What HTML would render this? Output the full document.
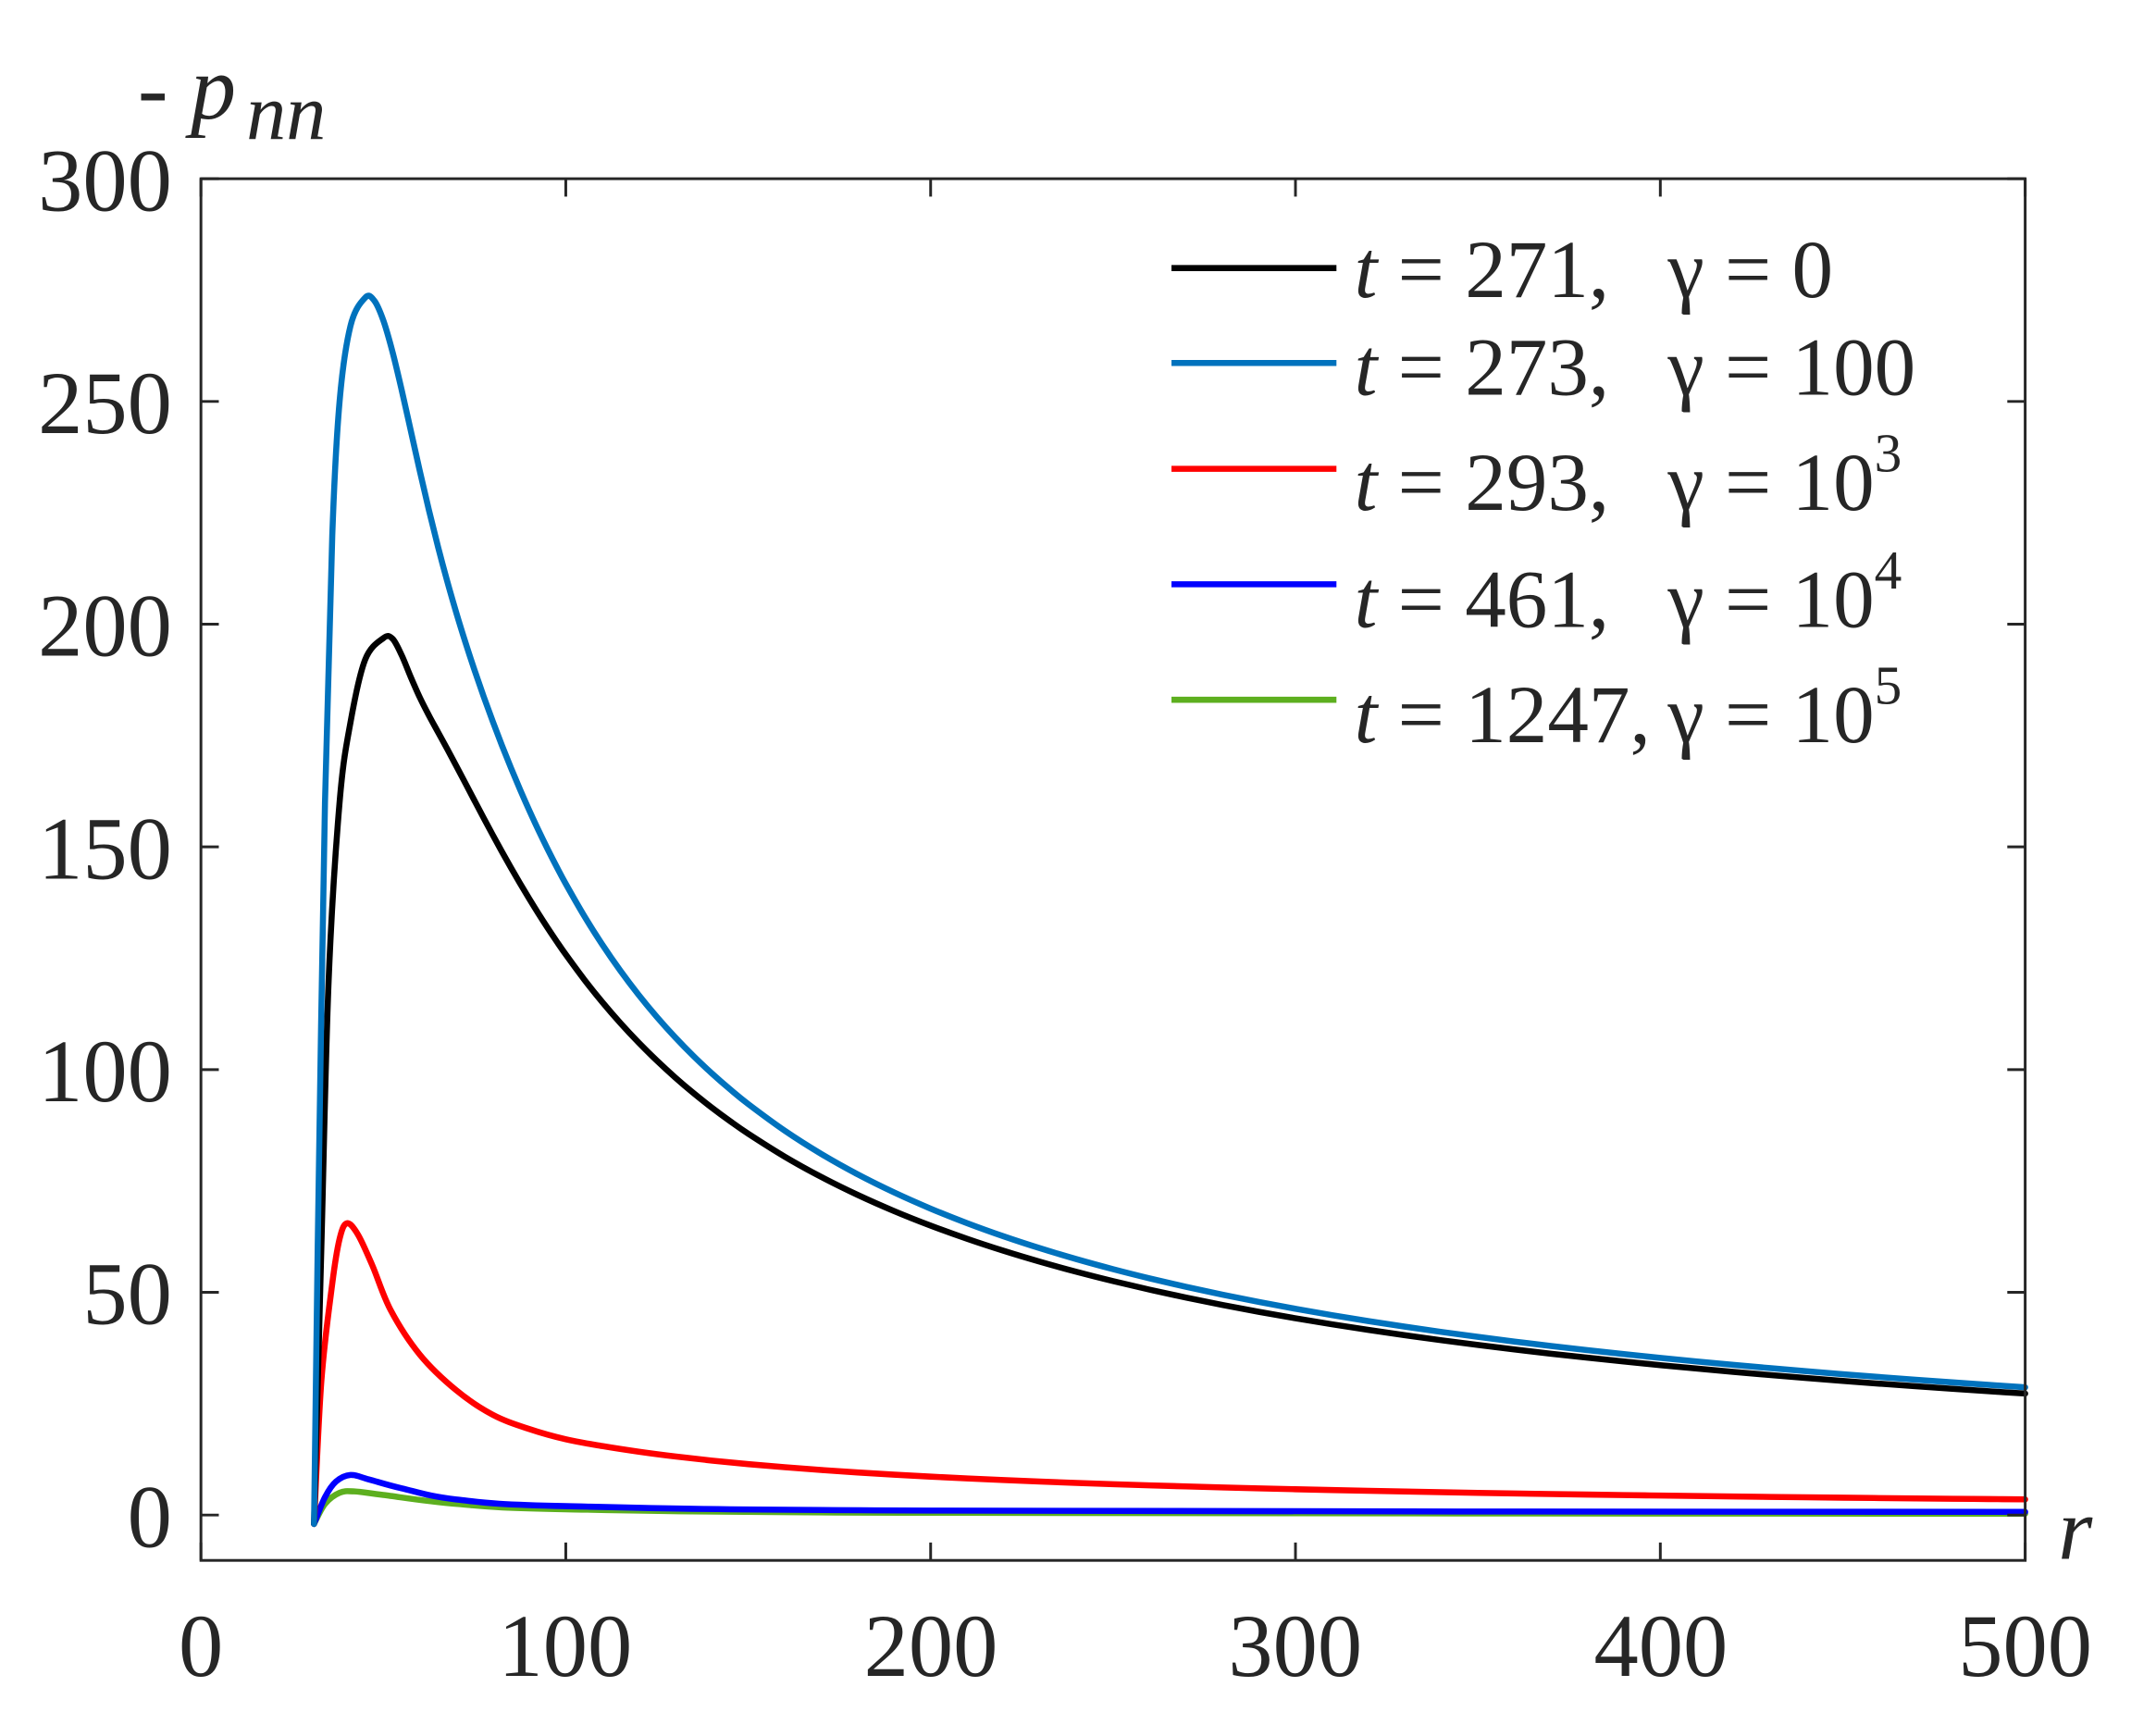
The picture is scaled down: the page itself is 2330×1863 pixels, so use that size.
<!DOCTYPE html>
<html><head><meta charset="utf-8"><style>
html,body{margin:0;padding:0;background:#fff}
svg{display:block}
text{font-family:"Liberation Serif","DejaVu Serif",serif;fill:#262626}
</style></head><body>
<svg id="s" width="2330" height="1863" viewBox="0 0 1568 1254" xmlns="http://www.w3.org/2000/svg">
<rect width="1568" height="1254" fill="#fff"/>
<g id="curves" fill="none" stroke-width="4.4" stroke-linejoin="round" stroke-linecap="round"></g>
<rect x="146" y="130" width="1327" height="1005" fill="none" stroke="#262626" stroke-width="2"/>
<g id="ticks" stroke="#262626" stroke-width="2"></g>
<g font-size="65">
<text x="125" y="153" text-anchor="end">300</text>
<text x="125" y="315" text-anchor="end">250</text>
<text x="125" y="477" text-anchor="end">200</text>
<text x="125" y="639" text-anchor="end">150</text>
<text x="125" y="801" text-anchor="end">100</text>
<text x="125" y="963" text-anchor="end">50</text>
<text x="125" y="1125" text-anchor="end">0</text>
<text x="146" y="1219" text-anchor="middle">0</text>
<text x="411" y="1219" text-anchor="middle">100</text>
<text x="677" y="1219" text-anchor="middle">200</text>
<text x="942" y="1219" text-anchor="middle">300</text>
<text x="1208" y="1219" text-anchor="middle">400</text>
<text x="1473" y="1219" text-anchor="middle">500</text>
</g>
<text x="100" y="86" font-size="66">- <tspan font-style="italic">p</tspan></text>
<text x="179" y="101" font-size="58" font-style="italic">nn</text>
<text x="1497" y="1134" font-size="64" font-style="italic">r</text>
<g stroke-width="4.4">
<line x1="852" y1="195" x2="972" y2="195" stroke="#000"/>
<line x1="852" y1="264" x2="972" y2="264" stroke="#0072BD"/>
<line x1="852" y1="341" x2="972" y2="341" stroke="#FF0000"/>
<line x1="852" y1="425" x2="972" y2="425" stroke="#0000FF"/>
<line x1="852" y1="509" x2="972" y2="509" stroke="#5DAF1F"/>
</g>
<g font-size="60">
<text x="985" y="216"><tspan font-style="italic">t</tspan> = 271,</text>
<text x="1213" y="216">γ = 0</text>
<text x="985" y="287"><tspan font-style="italic">t</tspan> = 273,</text>
<text x="1213" y="287">γ = 100</text>
<text x="985" y="371"><tspan font-style="italic">t</tspan> = 293,</text>
<text x="1213" y="371">γ = 10<tspan font-size="40" dy="-28">3</tspan></text>
<text x="985" y="456"><tspan font-style="italic">t</tspan> = 461,</text>
<text x="1213" y="456">γ = 10<tspan font-size="40" dy="-28">4</tspan></text>
<text x="985" y="540"><tspan font-style="italic">t</tspan> = 1247,</text>
<text x="1213" y="540">γ = 10<tspan font-size="40" dy="-28">5</tspan></text>
</g>
</svg>
<script>
var X=function(r){return 146+r*2.654}, Y=function(v){return 1102-v*3.24};
var ns="http://www.w3.org/2000/svg";
function tail(a,b,p,r0,f0){var out=[];for(var r=a;r<=b;r+=10)out.push([r,f0*Math.pow(r/r0,-p)]);return out;}
function ana(r0,f0,b,p,s,ca,cc,cw){var out=[];for(var r=r0;r<=500;r+=(r<100?2.5:(r<150?5:10))){var g=f0*Math.pow((r+b)/(100+b),-p)*(1-Math.exp(-(r-31)/s))+ca*Math.exp(-Math.pow((r-cc)/cw,2));out.push([r,g]);}return out;}
var data=[
["#5DAF1F",[[31,-2],[34,2.5],[38,5],[42,5.3],[50,4.5],[70,2.5],[100,1.3],[200,0.5],[500,0.3]]],
["#0000FF",[[31,-2],[34,4],[37,7.5],[41,9],[46,8],[55,6],[70,3.5],[100,2],[200,1],[500,0.7]]],
["#FF0000",[[31,-2],[33,30],[36,52],[38,62],[40,65.5],[43,63],[47,56],[52,46],[60,36],[70,28],[80,22.5],[90,19.3]].concat(tail(100,500,0.98,100,17))],
["#000000",[[31,-2],[33,60],[35,120],[38,160],[41,178],[45,192]].concat(ana(50,127,-5,0.932,14.7,12,50,7))],
["#0072BD",[[31,-2],[32,60],[34,160],[36,220],[38,250],[41,267]].concat(ana(45,144.5,-25,0.876,17.5,20,45,14))]
];
var g=document.getElementById("curves");
data.forEach(function(c){
 var p=c[1].map(function(q){return [X(q[0]),Y(q[1])]});
 var d="M"+p[0][0]+","+p[0][1];
 for(var i=0;i<p.length-1;i++){
  var p0=p[i-1]||p[i],p1=p[i],p2=p[i+1],p3=p[i+2]||p2;
  var c1=[p1[0]+(p2[0]-p0[0])/6,p1[1]+(p2[1]-p0[1])/6];
  var c2=[p2[0]-(p3[0]-p1[0])/6,p2[1]-(p3[1]-p1[1])/6];
  d+=" C"+c1+" "+c2+" "+p2;
 }
 var e=document.createElementNS(ns,"path");e.setAttribute("d",d);e.setAttribute("stroke",c[0]);g.appendChild(e);
});
var t=document.getElementById("ticks"),s="";
[0,50,100,150,200,250,300].forEach(function(v){var y=Y(v);s+='<line x1="146" y1="'+y+'" x2="159" y2="'+y+'"/><line x1="1460" y1="'+y+'" x2="1473" y2="'+y+'"/>';});
[0,100,200,300,400,500].forEach(function(r){var x=X(r);s+='<line x1="'+x+'" y1="1135" x2="'+x+'" y2="1122"/><line x1="'+x+'" y1="130" x2="'+x+'" y2="143"/>';});
t.innerHTML=s;
</script>
</body></html>
